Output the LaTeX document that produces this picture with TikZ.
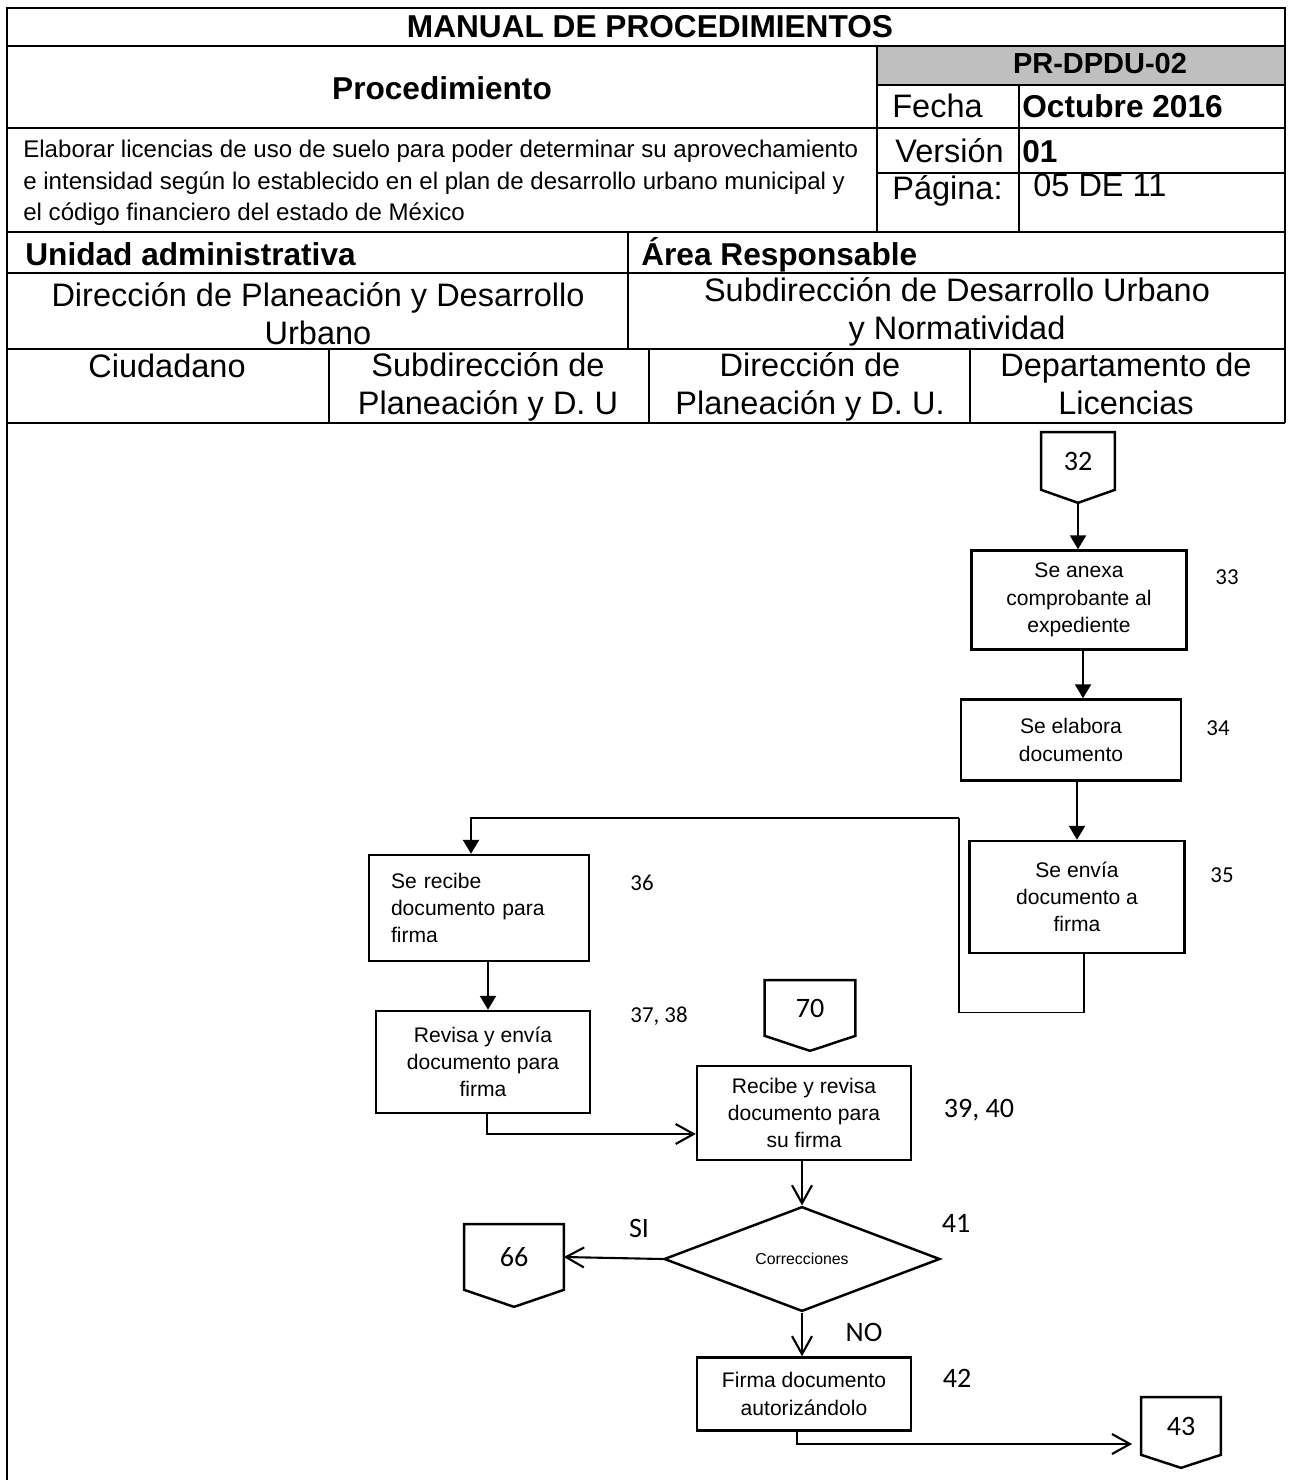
\documentclass[tikz,border=0pt]{standalone}
\usepackage{fontspec}
\setmainfont{Liberation Sans}
\newfontfamily\calibri{Carlito}
\usetikzlibrary{shapes.geometric,arrows.meta,calc}

\begin{document}
\begin{tikzpicture}[x=0.02cm,y=-0.02cm,
    tblframe/.style={line width=1.6pt},
    tblline/.style={line width=1.1pt},
    hdb/.style={inner sep=0pt,font=\bfseries\fontsize{18}{21.5}\selectfont},
    hdr/.style={inner sep=0pt,font=\fontsize{18.5}{21.5}\selectfont,align=center},
    box/.style={draw,line width=1.4pt,align=center,inner sep=0pt,font=\fontsize{12}{15.5}\selectfont},
    offpage/.style={inner sep=0pt,font=\calibri\fontsize{16}{18}\selectfont},
    stepnum/.style={inner sep=0pt,anchor=base,font=\calibri\fontsize{13}{15}\selectfont},
    bignum/.style={inner sep=0pt,anchor=base,font=\calibri\fontsize{16}{18}\selectfont},
    farrow/.style={line width=1.4pt,-{Triangle[length=0.28cm,width=0.32cm]}},
    oarrow/.style={line width=1.2pt,-{Straight Barb[length=0.36cm,width=0.4cm]}}]
  \useasboundingbox (0,0) rectangle (1288,1480);

  % Header table
  \fill[black!25] (877,46) rectangle (1285,85);
  \draw[tblframe] (7,1480) -- (7,8) -- (1285,8) -- (1285,423);
  \draw[tblframe] (7,46) -- (1285,46);
  \draw[tblline] (877,85) -- (1285,85);
  \draw[tblframe] (7,128) -- (1285,128);
  \draw[tblline] (877,173) -- (1285,173);
  \draw[tblframe] (7,232) -- (1285,232);
  \draw[tblline] (7,273) -- (1285,273);
  \draw[tblline] (7,349) -- (1285,349);
  \draw[tblframe] (7,423) -- (1285,423);
  \draw[tblline] (877,46) -- (877,232);
  \draw[tblline] (1019,85) -- (1019,232);
  \draw[tblline] (628,232) -- (628,349);
  \draw[tblline] (329,349) -- (329,423);
  \draw[tblline] (649,349) -- (649,423);
  \draw[tblline] (970,349) -- (970,423);

  \node[hdb,anchor=base] (titulo) at (650,38) {MANUAL DE PROCEDIMIENTOS};
  \node[hdb,anchor=base] (procedimiento) at (442,100) {Procedimiento};
  \node[hdb,anchor=base,font=\bfseries\fontsize{16.5}{18}\selectfont] (clave) at (1100,74) {PR-DPDU-02};
  \node[hdr,anchor=base west] (fecha) at (892,118) {Fecha};
  \node[hdb,anchor=base west] (fechaval) at (1022,118) {Octubre 2016};
  \node[hdr,anchor=base west] (version) at (895,163) {Versión};
  \node[hdb,anchor=base west] (versionval) at (1022,163) {01};
  \node[hdr,anchor=base west] (pagina) at (892,200) {Página:};
  \node[hdr,anchor=base west] (paginaval) at (1033,196) {05 DE 11};
  \node[inner sep=0pt,anchor=west,align=left,font=\fontsize{13.7}{18}\selectfont] (objetivo) at (23,183)
    {Elaborar licencias de uso de suelo para poder determinar su aprovechamiento\\
     e intensidad según lo establecido en el plan de desarrollo urbano municipal y\\
     el código financiero del estado de México};
  \node[hdb,anchor=base west] (unidad) at (25,265) {Unidad administrativa};
  \node[hdb,anchor=base west] (area) at (641,265) {Área Responsable};
  \node[hdr] (unidadval) at (318,314) {Dirección de Planeación y Desarrollo\\Urbano};
  \node[hdr] (areaval) at (957,312) {Subdirección de Desarrollo Urbano\\y Normatividad};
  \node[hdr,anchor=base] (ciudadano) at (167,377) {Ciudadano};
  \node[hdr] (subdir) at (488,387) {Subdirección de\\Planeación y D. U};
  \node[hdr] (direccion) at (810,387) {Dirección de\\Planeación y D. U.};
  \node[hdr] (depto) at (1126,384) {Departamento de\\Licencias};

  % Flow
  \node[offpage,minimum width=1.46cm,minimum height=1.14cm] (c32) at (1078,461) {32};
  \node[box,minimum width=4.3cm,minimum height=1.98cm] (b33) at (1079,600) {Se anexa\\comprobante al\\expediente};
  \node[box,minimum width=4.4cm,minimum height=1.62cm] (b34) at (1071,740) {Se elabora\\documento};
  \node[box,minimum width=4.3cm,minimum height=2.24cm] (b35) at (1077,897) {Se envía\\documento a\\firma};
  \node[box,minimum width=4.4cm,minimum height=2.12cm,text width=3.52cm,align=left] (b36) at (479,908)
    {Se recibe\\documento para\\firma};
  \node[box,minimum width=4.28cm,minimum height=2.04cm] (b37) at (483,1062) {Revisa y envía\\documento para\\firma};
  \node[offpage,minimum width=1.8cm,minimum height=1.1cm] (c70) at (810,1008) {70};
  \node[box,minimum width=4.28cm,minimum height=1.88cm] (b39) at (804,1113) {Recibe y revisa\\documento para\\su firma};
  \node[diamond,draw,line width=1.4pt,inner sep=0pt,minimum width=5.52cm,minimum height=1.94cm,
    font=\fontsize{9}{11}\selectfont] (dec) at (802,1259) {Correcciones};
  \node[offpage,minimum width=1.98cm,minimum height=1.3cm] (c66) at (514,1257) {66};
  \node[box,minimum width=4.28cm,minimum height=1.46cm] (b42) at (804,1394) {Firma documento\\autorizándolo};
  \node[offpage,minimum width=1.58cm,minimum height=1.14cm] (c43) at (1181,1426) {43};

  % Off-page connector outlines
  \foreach \c/\t in {c32/13,c70/15,c66/17,c43/13}
    \draw[line width=1.4pt] (\c.north west) -- (\c.north east) -- (\c.south east)
      -- ($(\c.south)+(0,\t)$) coordinate (\c-tip) -- (\c.south west) -- cycle;

  % Step numbers
  \node[stepnum] (n33) at (1227,584) {33};
  \node[stepnum] (n34) at (1218,735) {34};
  \node[stepnum] (n35) at (1222,882) {35};
  \node[stepnum] (n36) at (642,890) {36};
  \node[stepnum] (n37) at (659,1022) {37, 38};
  \node[bignum] (n39) at (979,1117) {39, 40};
  \node[bignum] (n41) at (956,1232) {41};
  \node[bignum] (n42) at (957,1387) {42};
  \node[bignum] (si) at (639,1237) {SI};
  \node[bignum] (no) at (864,1341) {NO};

  % Connectors
  \coordinate (back) at (959,818);
  \draw[farrow] (c32-tip) -- (c32-tip |- b33.north);
  \draw[farrow] ([xshift=0.08cm]b33.south) -- ([xshift=0.08cm]b33.south |- b34.north);
  \draw[farrow] (b34.south -| b35) -- (b35.north);
  \draw[line width=0.7pt] ([xshift=0.14cm]b35.south) -- ++(0,58) -| (back);
  \draw[farrow] (back) -| ([xshift=-0.16cm]b36.north);
  \draw[farrow] ([xshift=0.18cm]b36.south) -- ([xshift=0.18cm]b36.south |- b37.north);
  \draw[oarrow] ([xshift=0.08cm]b37.south) |- ($(b39.west)+(0,21)$);
  \draw[oarrow] (dec.north |- b39.south) -- (dec.north);
  \draw[oarrow] (dec.west) -- (c66.east);
  \draw[oarrow] (dec.south) -- (dec.south |- b42.north);
  \draw[oarrow] ([xshift=-0.14cm]b42.south) |- ($(c43.west)+(-9,18)$);
\end{tikzpicture}
\end{document}
